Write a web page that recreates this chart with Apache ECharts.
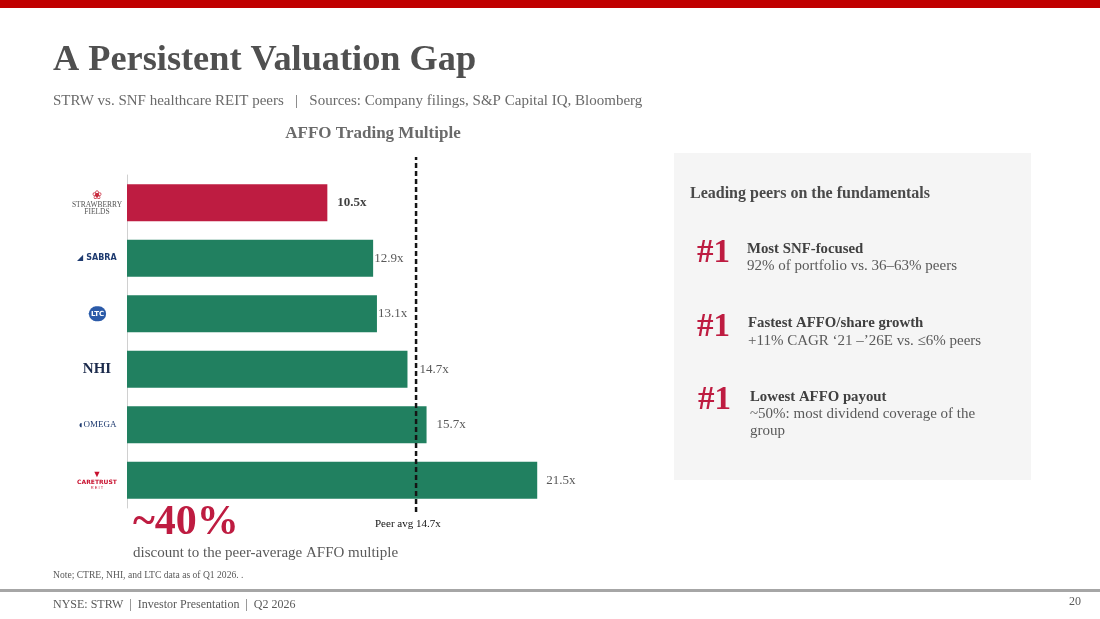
<!DOCTYPE html>
<html>
<head>
<meta charset="utf-8">
<script src="https://cdn.jsdelivr.net/npm/echarts@6/dist/echarts.min.js"></script>
<style>
html,body{margin:0;padding:0;background:#fff;}
#c{width:1100px;height:619px;}
</style>
</head>
<body>
<div id="c"></div>
<script>
// ---- data ----
const categories = ['Strawberry Fields', 'Sabra', 'LTC', 'NHI', 'Omega', 'CareTrust'];
const affoMultiples = [10.5, 12.9, 13.1, 14.7, 15.7, 21.5];
const highlightCompany = ['Strawberry Fields'];
const peerAvg = [14.7];
const peerAvgLine = [15.15]; // where the dashed line is drawn in the reference
const peerHighlights = [
  ['#1', 'Most SNF-focused', '92% of portfolio vs. 36\u201363% peers', ''],
  ['#1', 'Fastest AFFO/share growth', '+11% CAGR \u201821 \u2013\u201926E vs. \u22646% peers', ''],
  ['#1', 'Lowest AFFO payout', '~50%: most dividend coverage of the', 'group']
];
const discountText = ['~40%', 'discount to the peer-average AFFO multiple'];

// ---- styles ----
const SERIF = '"Liberation Serif", "Times New Roman", serif';
const RED = '#be1c41';
const GREEN = '#218060';
const GREY = '#595959';

const chart = echarts.init(document.getElementById('c'), null, {renderer: 'canvas'});

const labelDist = [10, 1, 1, 12, 10, 9];
const barData = affoMultiples.map((v, i) => {
  const hi = highlightCompany.includes(categories[i]);
  return {
    value: v,
    itemStyle: {color: hi ? RED : GREEN},
    label: {
      distance: labelDist[i],
      fontWeight: hi ? 'bold' : 'normal',
      color: hi ? '#404040' : GREY
    }
  };
});

const logoMap = {
  'Strawberry Fields': '{sfi|\u2740}\n{sf|STRAWBERRY}\n{sf|FIELDS}',
  'Sabra': '{sbi|\u25e2}{sb| SABRA}',
  'LTC': '{ltcd|\u25c6}{ltc|LTC}',
  'NHI': '{nhi|NHI}',
  'Omega': '{omi|\u25d6}{om|OMEGA}',
  'CareTrust': '{cti|\u25bc}\n{ct|CARETRUST}\n{ctr|R E I T}'
};

function t(text, x, y, size, opts) {
  opts = opts || {};
  return {
    type: 'text', silent: true, z: 10,
    style: {
      text: text, x: x, y: y,
      fontSize: size, fontFamily: SERIF,
      fontWeight: opts.bold ? 'bold' : 'normal',
      fill: opts.color || GREY,
      align: opts.align || 'left',
      verticalAlign: 'middle'
    }
  };
}

const graphics = [
  {type: 'rect', shape: {x: 0, y: 0, width: 1100, height: 8}, style: {fill: '#c00000'}, silent: true},
  t('A Persistent Valuation Gap', 53, 61, 36.3, {bold: true, color: '#505050'}),
  t('STRW vs. SNF healthcare REIT peers   |   Sources: Company filings, S&P Capital IQ, Bloomberg', 53, 101, 15, {color: '#6a6a6a'}),
  t('AFFO Trading Multiple', 373, 134, 17, {bold: true, color: '#6a6a6a', align: 'center'}),
  {type: 'rect', shape: {x: 674, y: 153, width: 357, height: 327}, style: {fill: '#f5f5f5'}, silent: true, z: 1},
  t('Leading peers on the fundamentals', 690, 194, 16, {bold: true, color: '#4a4a4a'}),
  t(discountText[0], 133, 523, 42, {bold: true, color: RED}),
  t(discountText[1], 133, 553, 15, {color: GREY}),
  t('Peer avg ' + peerAvg[0].toFixed(1) + 'x', 375, 524, 11, {color: '#111'}),
  t('Note; CTRE, NHI, and LTC data as of Q1 2026. .', 53, 575, 9.6, {color: GREY}),
  {type: 'rect', shape: {x: 0, y: 589, width: 1100, height: 3}, style: {fill: '#a6a6a6'}, silent: true},
  t('NYSE: STRW  |  Investor Presentation  |  Q2 2026', 53, 605, 12, {color: GREY}),
  t('20', 1081, 602, 12, {color: GREY, align: 'right'})
];

const hlPos = [
  {n: [697, 253], h: [747, 249], b: [747, 266]},
  {n: [697, 327], h: [748, 323], b: [748, 341]},
  {n: [698, 400], h: [750, 397], b: [750, 414]}
];
peerHighlights.forEach((row, i) => {
  const p = hlPos[i];
  graphics.push(t(row[0], p.n[0], p.n[1], 33, {bold: true, color: RED}));
  graphics.push(t(row[1], p.h[0], p.h[1], 14.8, {bold: true, color: '#404040'}));
  graphics.push(t(row[2], p.b[0], p.b[1], 15, {color: GREY}));
  if (row[3]) graphics.push(t(row[3], p.b[0], p.b[1] + 17, 15, {color: GREY}));
});

const option = {
  animation: false,
  backgroundColor: '#ffffff',
  grid: [
    {left: 127, top: 175, width: 477, height: 333},
    {left: 127, top: 157, width: 477, height: 355}
  ],
  xAxis: [
    {gridIndex: 0, type: 'value', min: 0, max: 25, show: false},
    {gridIndex: 1, type: 'value', min: 0, max: 25, show: false}
  ],
  yAxis: [
    {
      gridIndex: 0, type: 'category', data: categories, inverse: true,
      axisLine: {show: true, lineStyle: {color: '#d0d0d0', width: 1}},
      axisTick: {show: false},
      axisLabel: {
        margin: 30, align: 'center',
        formatter: v => logoMap[v],
        rich: {
          sfi: {fontSize: 12, color: '#c8283c', lineHeight: 11, align: 'center'},
          sf: {fontSize: 7.5, fontFamily: SERIF, color: '#555', lineHeight: 7, align: 'center'},
          sbi: {fontSize: 8, color: '#1f3b70'},
          sb: {fontSize: 8, fontWeight: 'bold', fontFamily: 'DejaVu Sans', color: '#1f3b70'},
          ltcd: {fontSize: 20, color: '#7fb0e0', padding: [0, -14, 0, 0]},
          ltc: {fontSize: 7, fontWeight: 'bold', fontFamily: 'DejaVu Sans', color: '#fff',
                backgroundColor: '#2b5aa8', borderRadius: 8, padding: [4, 2]},
          nhi: {fontSize: 15, fontWeight: 'bold', fontFamily: SERIF, color: '#1c2b4c'},
          omi: {fontSize: 10, color: '#1f3b70'},
          om: {fontSize: 9, fontFamily: SERIF, color: '#1f3b70'},
          cti: {fontSize: 9, color: '#c8102e', lineHeight: 9, align: 'center'},
          ct: {fontSize: 6, fontWeight: 'bold', fontFamily: 'DejaVu Sans', color: '#c8102e', lineHeight: 7, align: 'center'},
          ctr: {fontSize: 4, color: '#c8102e', lineHeight: 5, align: 'center'}
        }
      }
    },
    {gridIndex: 1, type: 'value', min: 0, max: 1, show: false}
  ],
  series: [
    {
      type: 'bar', xAxisIndex: 0, yAxisIndex: 0,
      data: barData, barWidth: 37,
      label: {
        show: true, position: 'right', fontFamily: SERIF, fontSize: 13,
        formatter: p => p.value.toFixed(1) + 'x'
      }
    },
    {
      type: 'line', xAxisIndex: 1, yAxisIndex: 1, symbol: 'none', z: 5,
      data: [[peerAvgLine[0], 0], [peerAvgLine[0], 1]],
      lineStyle: {color: '#151515', width: 2.5, type: [5, 3]}
    }
  ],
  graphic: graphics
};
chart.setOption(option);
</script>
</body>
</html>
